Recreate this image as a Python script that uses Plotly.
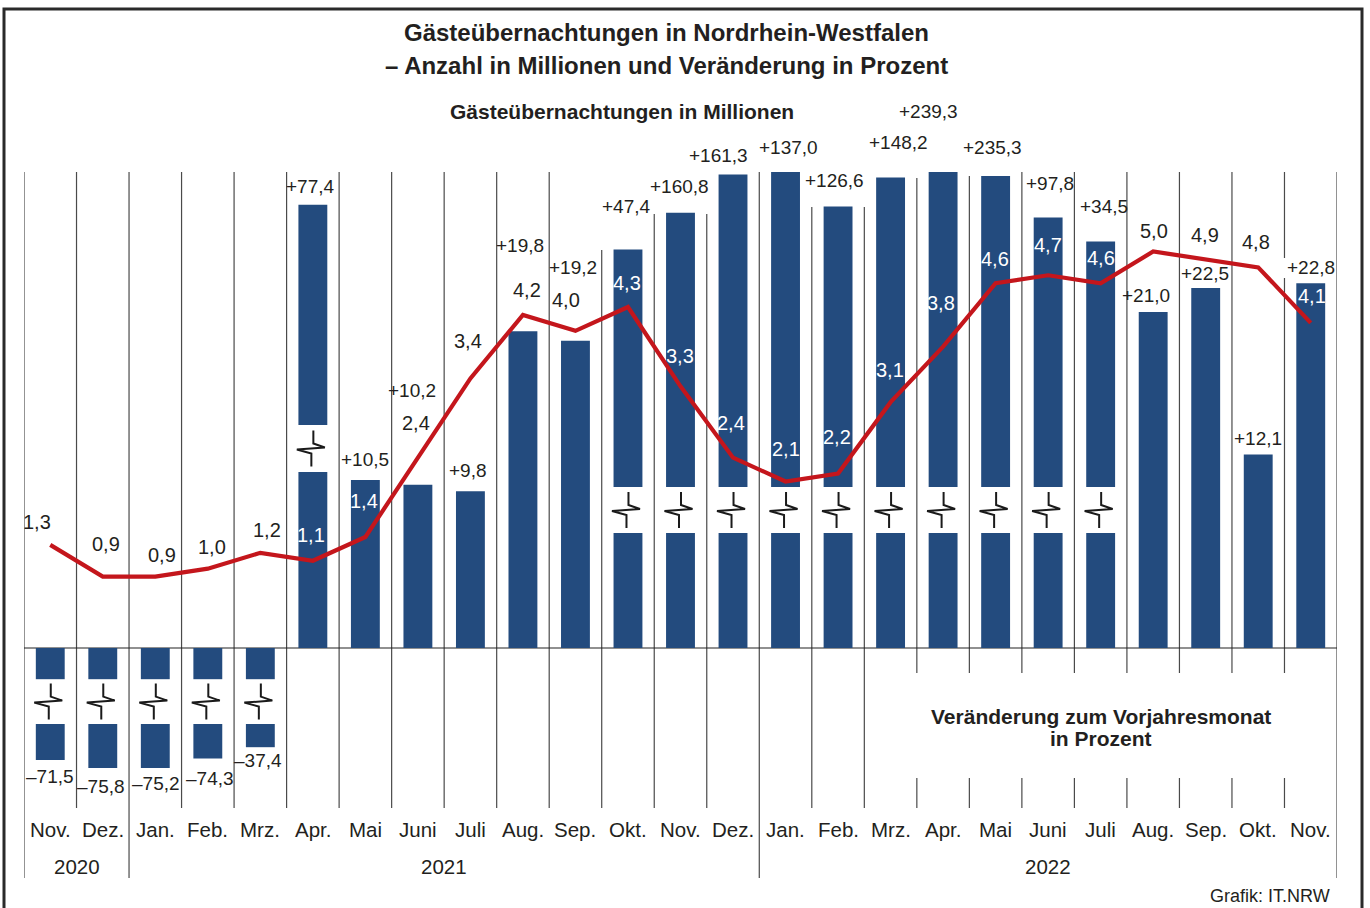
import plotly.graph_objects as go

# ---------------- data ----------------
months = ["Nov.", "Dez.", "Jan.", "Feb.", "Mrz.", "Apr.", "Mai", "Juni", "Juli", "Aug.", "Sep.", "Okt.",
          "Nov.", "Dez.", "Jan.", "Feb.", "Mrz.", "Apr.", "Mai", "Juni", "Juli", "Aug.", "Sep.", "Okt.", "Nov."]
year_labels = ["2020", "2021", "2022"]
year_month_counts = [2, 12, 11]
overnight_mio = [1.3, 0.9, 0.9, 1.0, 1.2, 1.1, 1.4, 2.4, 3.4, 4.2, 4.0, 4.3, 3.3, 2.4, 2.1, 2.2, 3.1, 3.8,
                 4.6, 4.7, 4.6, 5.0, 4.9, 4.8, 4.1]
change_pct = [-71.5, -75.8, -75.2, -74.3, -37.4, 77.4, 10.5, 10.2, 9.8, 19.8, 19.2, 47.4, 160.8, 161.3,
              137.0, 126.6, 148.2, 239.3, 235.3, 97.8, 34.5, 21.0, 22.5, 12.1, 22.8]

# ---------------- layout helpers (axis-break drawing, label placement) ----------------
W, H = 1370, 908
ML, MR, MT, MB = 24, 33, 90, 30
PX0, PX1, PY0, PY1 = ML, W - MR, MT, H - MB
N = len(months)
CAT_PX = (PX1 - PX0) / N
ZERO_PY = 648
PCT_PX = 16.0      # px per percent point (bar axis)
MIO_PX = 79.3      # px per million (line axis)

def py_pct(py):
    return (ZERO_PY - py) / PCT_PX

def pap_x(px):
    return (px - PX0) / (PX1 - PX0)

def pap_y(py):
    return (PY1 - py) / (PY1 - PY0)

# truncated (broken-axis) drawn lengths for very long bars, in percent units
broken_len = {0: 7.0, 1: 7.5, 2: 7.5, 3: 6.9, 4: 6.2, 5: 27.7, 11: 24.9, 12: 27.2, 13: 29.6,
              14: 29.75, 15: 27.6, 16: 29.4, 17: 29.75, 18: 29.5, 19: 26.9, 20: 25.4}
gap_default = (7.19, 10.06)
gap_special = {5: (11.0, 13.94)}
gap_neg = (1.95, 4.75)

bar_lbl_dy = [-16, -18, -15, -20, -13, 18, 21, 94, 21, 86, 73, 43, 26, 19, 25, 26, 35, 61, 29, 34, 35,
              17, 15, 16, 16]
bar_lbl_dx = [0, -2, 1, 2, -2, -2, 0, -6, -2, -3, -2, -1, -1, -15, 3, -4, 8, -15, -3, 2, 3, -7, -1, 0, 0]
line_lbl_off = [(-13, -23), (3, -33), (7, -22), (4, -22), (7, -23), (-2, -26), (-1, -36), (-2, -35),
                (-2, -37), (4, -25), (-9, -31), (-1, -24), (-1, -30), (-2, -35), (0, -32), (-1, -37),
                (-1, -32), (-2, -44), (-1, -24), (0, -30), (0, -25), (1, -21), (-1, -24), (-2, -25),
                (1, -27)]

BAR_COLOR = "#234b7e"
RED = "#c4161c"
TXT = "#231f20"
FONT = "Liberation Sans, Arial, sans-serif"

def fmt(v, sign=True):
    s = f"{abs(v):.1f}".replace(".", ",")
    if not sign:
        return s
    return ("+" if v >= 0 else "–") + s

# ---------------- bar segments ----------------
seg_x, seg_base, seg_len = [], [], []
zig_x, zig_y = [], []
bar_ends = []
bar_spans = []
zig_shape = [(0.5, -18), (0.5, -5), (12, -1), (-16, 1), (-1.5, 5), (-1.5, 18)]
for i, v in enumerate(change_pct):
    if i in broken_len:
        d = broken_len[i]
        if v >= 0:
            g0, g1 = gap_special.get(i, gap_default)
            seg_x += [i, i]
            seg_base += [0, g1]
            seg_len += [g0, d - g1]
            bar_ends.append(d)
            bar_spans.append([(0, g0), (g1, d)])
        else:
            g0, g1 = gap_neg
            seg_x += [i, i]
            seg_base += [0, -g1]
            seg_len += [-g0, -(d - g1)]
            bar_ends.append(-d)
            bar_spans.append([(-g0, 0), (-d, -g1)])
        mid = (g0 + g1) / 2 * (1 if v >= 0 else -1)
        for dx, dy in zig_shape:
            zig_x.append(i + dx / CAT_PX)
            zig_y.append(mid - dy / PCT_PX)
        zig_x.append(None)
        zig_y.append(None)
    else:
        seg_x.append(i)
        seg_base.append(0)
        seg_len.append(v)
        bar_ends.append(v)
        bar_spans.append([(min(0, v), max(0, v))])

fig = go.Figure()
fig.add_trace(go.Bar(x=seg_x, y=seg_len, base=seg_base, width=0.55, marker=dict(color=BAR_COLOR, line=dict(width=0)),
                     hoverinfo="skip", showlegend=False))
fig.add_trace(go.Scatter(x=zig_x, y=zig_y, mode="lines", line=dict(color="#1a1a1a", width=2),
                         hoverinfo="skip", showlegend=False))
fig.add_trace(go.Scatter(x=list(range(N)), y=overnight_mio, yaxis="y2", mode="lines",
                         line=dict(color=RED, width=4.2), hoverinfo="skip", showlegend=False))

ann = []
shapes = []

# bar value labels
for i, v in enumerate(change_pct):
    ann.append(dict(x=i, y=bar_ends[i], xref="x", yref="y", text=fmt(v), showarrow=False,
                    xshift=bar_lbl_dx[i], yshift=bar_lbl_dy[i], yanchor="middle", xanchor="center",
                    font=dict(family=FONT, size=19, color=TXT)))

# line value labels
for i, m in enumerate(overnight_mio):
    dx, dy = line_lbl_off[i]
    py = ZERO_PY - m * MIO_PX + dy
    pct_y = py_pct(py)
    inside = any(lo <= pct_y <= hi for lo, hi in bar_spans[i])
    ann.append(dict(x=i, y=m, xref="x", yref="y2", text=fmt(m, sign=False), showarrow=False,
                    xshift=dx, yshift=-dy, yanchor="middle", xanchor="center",
                    font=dict(family=FONT, size=20, color="white" if inside else TXT)))

# month labels
for i, mname in enumerate(months):
    ann.append(dict(x=i, y=pap_y(829), xref="x", yref="paper", text=mname, showarrow=False,
                    xanchor="center", yanchor="middle", font=dict(family=FONT, size=20.5, color=TXT)))
# year labels
start = 0
year_bounds = [0]
for lab, cnt in zip(year_labels, year_month_counts):
    ann.append(dict(x=start + cnt / 2 - 0.5, y=pap_y(866), xref="x", yref="paper", text=lab, showarrow=False,
                    xanchor="center", yanchor="middle", font=dict(family=FONT, size=20.5, color=TXT)))
    start += cnt
    year_bounds.append(start)

# titles and notes
def note(px, py, text, size, bold=True, anchor="center"):
    ann.append(dict(x=pap_x(px), y=pap_y(py), xref="paper", yref="paper", showarrow=False,
                    xanchor=anchor, yanchor="middle", text=f"<b>{text}</b>" if bold else text,
                    font=dict(family=FONT, size=size, color=TXT)))

note(666, 33, "Gästeübernachtungen in Nordrhein-Westfalen", 24)
note(666, 65, "– Anzahl in Millionen und Veränderung in Prozent", 24)
note(622, 111, "Gästeübernachtungen in Millionen", 21)
note(1101, 716, "Veränderung zum Vorjahresmonat", 21)
note(1101, 738, "in Prozent", 21)
note(1332, 896, "Grafik: IT.NRW", 18, bold=False, anchor="right")

# gridlines (category separators)
top_override = {11: 250, 12: 214, 13: 214, 15: 207, 16: 207, 17: 178, 18: 176}
GRID = "#4a4a4a"
for k in range(N + 1):
    x = k - 0.5
    top = top_override.get(k, 172)
    bot = 878 if k in year_bounds else 808
    segs = [(top, bot)]
    if 17 <= k <= 24:
        segs = [(top, 673), (778, bot)]
    if k == 24:
        segs = [(top, 258), (278, 673), (778, bot)]
    for a, b in segs:
        shapes.append(dict(type="line", xref="x", yref="y", x0=x, x1=x, y0=py_pct(a), y1=py_pct(b),
                           line=dict(color=GRID, width=1.2), layer="below"))
# zero line
shapes.append(dict(type="line", xref="x", yref="y", x0=-0.5, x1=N - 0.5, y0=0, y1=0,
                   line=dict(color="#222", width=1.2), layer="below"))
# outer frame
shapes.append(dict(type="rect", xref="paper", yref="paper", x0=pap_x(4), x1=pap_x(1362), y0=pap_y(912), y1=pap_y(9),
                   line=dict(color="#2a2a2a", width=3), layer="above"))

fig.update_layout(
    width=W, height=H,
    margin=dict(l=ML, r=MR, t=MT, b=MB),
    paper_bgcolor="white", plot_bgcolor="white",
    xaxis=dict(range=[-0.5, N - 0.5], visible=False, fixedrange=True),
    yaxis=dict(range=[py_pct(PY1), py_pct(PY0)], visible=False, fixedrange=True),
    yaxis2=dict(range=[(ZERO_PY - PY1) / MIO_PX, (ZERO_PY - PY0) / MIO_PX], overlaying="y", visible=False,
                fixedrange=True),
    annotations=ann, shapes=shapes, showlegend=False, barmode="overlay",
)

fig.write_html("out.html", config={"displayModeBar": False},
               post_script="document.body.style.margin='0';document.body.style.overflow='hidden';")
